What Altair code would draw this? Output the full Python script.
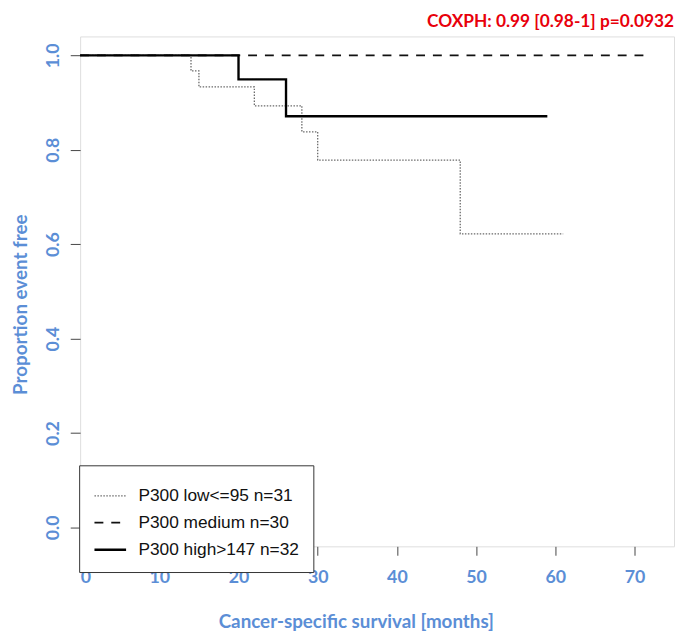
import altair as alt
import pandas as pd

# Kaplan-Meier step curves
groups = ["P300 low<=95 n=31", "P300 medium n=30", "P300 high>147 n=32"]

low_time = [0, 14, 15, 22, 28, 30, 48, 61]
low_surv = [1.0, 0.967, 0.933, 0.893, 0.838, 0.778, 0.622, 0.622]

med_time = [0, 72]
med_surv = [1.0, 1.0]

high_time = [0, 20, 26, 59]
high_surv = [1.0, 0.949, 0.871, 0.871]

x_ticks = [0, 10, 20, 30, 40, 50, 60, 70]
y_ticks = [0.0, 0.2, 0.4, 0.6, 0.8, 1.0]

title_text = "COXPH: 0.99 [0.98-1] p=0.0932"

frames = []
for g, t, s in [(groups[0], low_time, low_surv),
                (groups[1], med_time, med_surv),
                (groups[2], high_time, high_surv)]:
    frames.append(pd.DataFrame({"time": t, "surv": s, "group": g}))
df = pd.concat(frames, ignore_index=True)

BLUE = "#5b8ed6"
FONT = "Lato"

color_scale = alt.Scale(domain=groups, range=["#6a6a6a", "#111111", "#000000"])
dash_scale = alt.Scale(domain=groups, range=[[1.5, 1.5], [9, 8], [1, 0]])
width_scale = alt.Scale(domain=groups, range=[1.3, 2.4, 3.0])

legend = alt.Legend(
    title=None,
    orient="none",
    legendX=-1,
    legendY=434,
    direction="vertical",
    symbolType="stroke",
    symbolSize=1024,
    symbolFillColor="transparent",
    labelFont="Liberation Sans",
    labelFontSize=17.5,
    labelColor="#111111",
    labelOffset=11,
    labelLimit=400,
    rowPadding=1,
    padding=14,
    strokeColor="#333333",
    fillColor="white",
    cornerRadius=0,
)

base = alt.Chart(df).mark_line(interpolate="step-after", strokeCap="butt").encode(
    x=alt.X(
        "time:Q",
        scale=alt.Scale(domain=[0, 75], nice=False, zero=False),
        axis=alt.Axis(
            values=x_ticks,
            title="Cancer-specific survival [months]",
            titleX=279,
            titlePadding=26,
            grid=False,
            domain=False,
            tickSize=9,
            tickColor="#444444",
            labelPadding=14,
            labelFont=FONT,
            labelFontSize=18,
            labelFontWeight="bold",
            labelColor=BLUE,
            titleFont=FONT,
            titleFontSize=19,
            titleFontWeight="bold",
            titleColor=BLUE,
        ),
    ),
    y=alt.Y(
        "surv:Q",
        scale=alt.Scale(domain=[-0.04, 1.04], nice=False, zero=False),
        axis=alt.Axis(
            values=y_ticks,
            format=".1f",
            title="Proportion event free",
            titleY=271,
            titlePadding=14,
            grid=False,
            domain=False,
            tickSize=10,
            tickColor="#444444",
            labelAngle=-90,
            labelAlign="center",
            labelBaseline="alphabetic",
            labelPadding=12,
            labelFont=FONT,
            labelFontSize=18,
            labelFontWeight="bold",
            labelColor=BLUE,
            titleFont=FONT,
            titleFontSize=19,
            titleFontWeight="bold",
            titleColor=BLUE,
        ),
    ),
    color=alt.Color("group:N", scale=color_scale, legend=legend, sort=groups),
    strokeDash=alt.StrokeDash("group:N", scale=dash_scale, legend=legend, sort=groups),
    strokeWidth=alt.StrokeWidth("group:N", scale=width_scale, legend=legend, sort=groups),
)

layers = [base.transform_filter(alt.datum.group == g) for g in groups]

chart = alt.layer(*layers).properties(
    width=601,
    height=516,
    title=alt.TitleParams(
        text=title_text,
        anchor="end",
        font=FONT,
        fontSize=17.5,
        fontWeight="bold",
        color="#e8000b",
        offset=6,
    ),
    autosize=alt.AutoSizeParams(type="none"),
    padding={"left": 73, "top": 25, "right": 3, "bottom": 90},
).configure_view(
    stroke="#555555",
    strokeWidth=1.2,
).configure(background="white")

chart.save("out.html", embed_options={"renderer": "svg", "actions": False})
